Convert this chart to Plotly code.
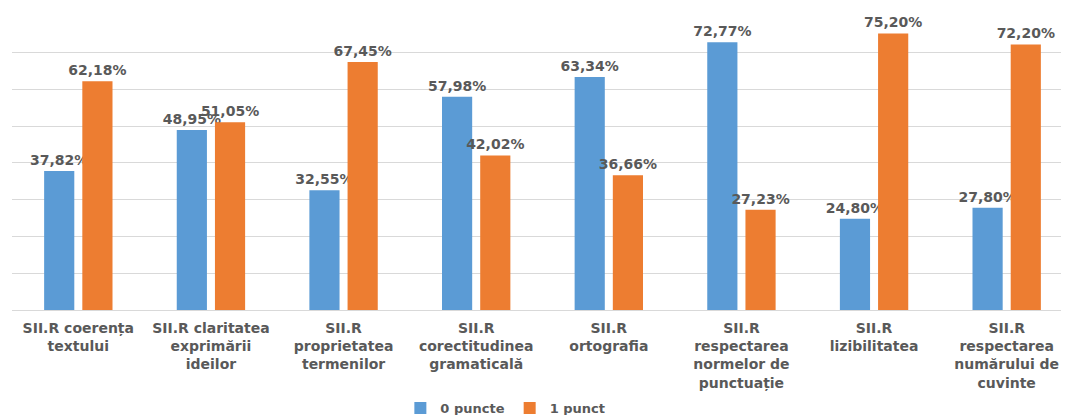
import plotly.graph_objects as go

categories = [
    "SII.R coerența<br>textului",
    "SII.R claritatea<br>exprimării<br>ideilor",
    "SII.R<br>proprietatea<br>termenilor",
    "SII.R<br>corectitudinea<br>gramaticală",
    "SII.R<br>ortografia",
    "SII.R<br>respectarea<br>normelor de<br>punctuație",
    "SII.R<br>lizibilitatea",
    "SII.R<br>respectarea<br>numărului de<br>cuvinte",
]
zero_puncte = [37.82, 48.95, 32.55, 57.98, 63.34, 72.77, 24.80, 27.80]
unu_punct = [62.18, 51.05, 67.45, 42.02, 36.66, 27.23, 75.20, 72.20]
series_names = ["0 puncte", "1 punct"]
colors = ["#5B9BD5", "#ED7D31"]


def fmt(v):
    return f"{v:.2f}".replace(".", ",") + "%"


fig = go.Figure()
for name, vals, col in zip(series_names, [zero_puncte, unu_punct], colors):
    fig.add_trace(go.Bar(
        name=name,
        x=categories,
        y=vals,
        marker=dict(color=col, line=dict(width=0)),
        text=[fmt(v) for v in vals],
        textposition="outside",
        textangle=0,
        constraintext="none",
        cliponaxis=False,
        textfont=dict(family="DejaVu Sans", size=14, color="#595959", weight="bold"),
    ))

fig.update_layout(
    width=1069,
    height=415,
    margin=dict(l=4, r=4, t=7, b=113, autoexpand=False),
    plot_bgcolor="white",
    paper_bgcolor="white",
    barmode="group",
    bargap=0.424,
    bargroupgap=0.21,
    showlegend=True,
    legend=dict(
        orientation="h",
        x=0.465,
        xanchor="center",
        y=-0.332,
        yanchor="middle",
        font=dict(family="DejaVu Sans", size=13, color="#595959", weight="bold"),
        itemwidth=30,
    ),
    xaxis=dict(
        showgrid=False,
        showline=False,
        ticks="",
        automargin=False,
        ticklabelstandoff=8,
        tickfont=dict(family="DejaVu Sans", size=14, color="#595959", weight="bold"),
    ),
    yaxis=dict(
        range=[0, 80.2],
        tickvals=[0, 10, 20, 30, 40, 50, 60, 70, 80],
        showgrid=True,
        gridcolor="#D9D9D9",
        gridwidth=1,
        zeroline=True,
        zerolinecolor="#D9D9D9",
        zerolinewidth=1,
        showticklabels=False,
        automargin=False,
        ticks="",
    ),
)

fig.write_html("out.html")
